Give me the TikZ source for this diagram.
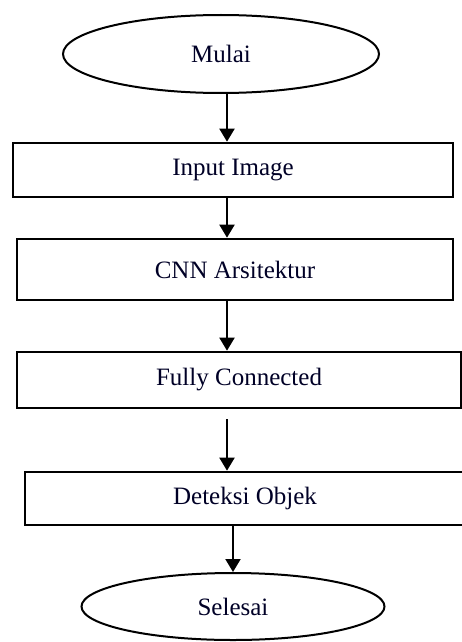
\documentclass[tikz,border=0pt]{standalone}
\usepackage{fontspec}
\setmainfont{Liberation Serif}
\usetikzlibrary{arrows.meta,shapes.geometric}
\begin{document}
\begin{tikzpicture}[x=1pt,y=-1pt,
  txt/.style={font=\fontsize{25}{28}\selectfont, text=black!85!blue},
  oval/.style={ellipse, draw, line width=2pt, inner sep=0pt, txt},
  stepbox/.style={rectangle, draw, line width=2.6pt, inner sep=0pt, txt},
  arr/.style={line width=2pt, -{Triangle[width=15pt,length=13pt]}}]
\useasboundingbox (0,0) rectangle (462,642);
\node[oval, minimum width=316pt, minimum height=78pt] (mulai) at (221,54) {Mulai};
\node[stepbox, minimum width=440pt, minimum height=54pt] (input) at (233,170) {Input Image};
\node[stepbox, minimum width=436pt, minimum height=61pt] (cnn) at (235,269.5) {CNN Arsitektur};
\node[stepbox, minimum width=444pt, minimum height=56pt] (fc) at (239,380) {Fully Connected};
\node[stepbox, minimum width=440pt, minimum height=53pt] (det) at (245,498.5) {Deteksi Objek};
\node[oval, minimum width=303pt, minimum height=67pt] (selesai) at (233,606.5) {Selesai};
\coordinate (ax) at (227,0);
\coordinate (bx) at (233,0);
\draw[arr] (mulai.south -| ax) -- (input.north -| ax);
\draw[arr] (input.south -| ax) -- (cnn.north -| ax);
\draw[arr] (cnn.south -| ax) -- (fc.north -| ax);
\draw[arr] ([yshift=-10pt]fc.south -| ax) -- (det.north -| ax);
\draw[arr] (det.south -| bx) -- (selesai.north -| bx);
\end{tikzpicture}
\end{document}
